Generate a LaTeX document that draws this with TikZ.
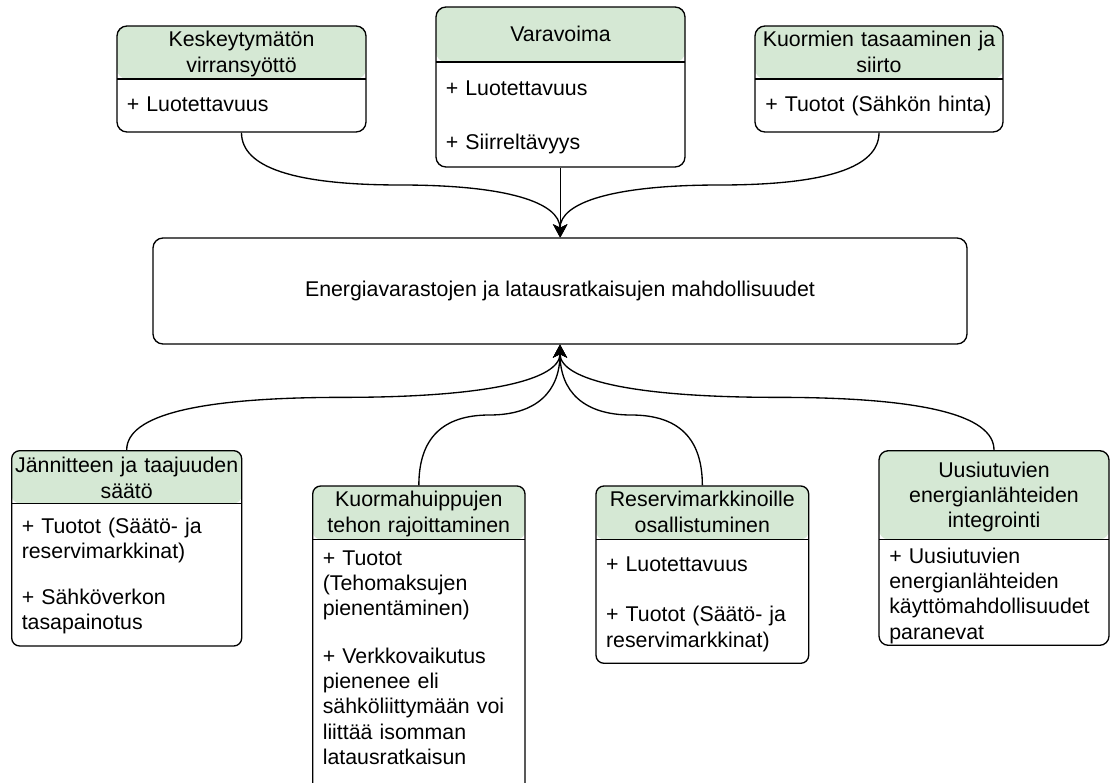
\documentclass[tikz,border=0pt]{standalone}
\usepackage{fontspec}
\setmainfont{Liberation Sans}
\usetikzlibrary{calc,fit,arrows.meta}

\definecolor{hdrgreen}{HTML}{D5E8D4}
\definecolor{ink}{HTML}{000000}

\tikzset{
  every node/.style={font=\fontsize{16}{19}\selectfont, inner sep=0pt, text=ink},
  % swimlane box: rounded outline, green header strip of height #2 (px)
  lane/.style 2 args={draw=ink, line width=1pt, rounded corners=#1, inner sep=0pt,
    path picture={
      \fill[hdrgreen] (path picture bounding box.north west)
        rectangle ($(path picture bounding box.north east)+(0,#2)$);
      \draw[ink, line width=1pt] ($(path picture bounding box.north west)+(0,#2)$)
        -- ($(path picture bounding box.north east)+(0,#2)$);
    }},
  hubbox/.style={draw=ink, line width=1pt, rounded corners=7.5pt, inner sep=0pt, align=center},
  headtext/.style={anchor=base, align=center, text width=200pt},
  bodytext/.style={anchor=base west, align=left, text width=200pt},
  link/.style={draw=ink, line width=1pt, -{Stealth[length=9.75pt,width=10.5pt,inset=2.6pt]}},
  % curved orthogonal route: vertical out, horizontal through mid-height, vertical in
  elbow/.style={to path={
    let \p1=(\tikztostart), \p2=(\tikztotarget) in
    .. controls (\x1,{\y1+(\y2-\y1)/3}) and ({\x1+(\x2-\x1)/6},{(\y1+\y2)/2})
    .. ({(\x1+\x2)/2},{(\y1+\y2)/2})
    .. controls ({\x1+5*(\x2-\x1)/6},{(\y1+\y2)/2}) and (\x2,{\y2+(\y1-\y2)/3})
    .. (\x2,\y2) \tikztonodes}}
}

\begin{document}
\begin{tikzpicture}[x=0.75pt,y=-0.75pt]
\fill[white] (0,0) rectangle (1110,782);
\useasboundingbox (0,0) rectangle (1110,782);

% ---- central box
\node[hubbox, fit={(153,238) (967,344)}] (hub) {};
\node (hub-t) at (560,291) {Energiavarastojen ja latausratkaisujen mahdollisuudet};

% ---- upper row
\node[lane={7.5pt}{53}, fit={(117,26) (366,132)}] (ups) {};
\node[headtext] (ups-t) at (241.5,46.7) {Keskeytymätön\\virransyöttö};
\node[bodytext] (ups-b1) at (126.5,111.7) {+ Luotettavuus};

\node[lane={7.5pt}{55}, fit={(436,7) (685,167)}] (vara) {};
\node[headtext] (vara-t) at (560.5,41.5) {Varavoima};
\node[bodytext] (vara-b1) at (445.5,95.7) {+ Luotettavuus};
\node[bodytext] (vara-b2) at (445.5,149) {+ Siirreltävyys};

\node[lane={7.5pt}{53}, fit={(755,26) (1003,132)}] (kuor) {};
\node[headtext] (kuor-t) at (879,46.7) {Kuormien tasaaminen ja\\siirto};
\node[bodytext] (kuor-b1) at (765,111.7) {+ Tuotot (Sähkön hinta)};

% ---- lower row
\node[lane={6pt}{52.6}, fit={(11.7,450.7) (241.7,646)}] (jann) {};
\node[headtext] (jann-t) at (126.7,472.7) {Jännitteen ja taajuuden\\säätö};
\node[bodytext] (jann-b1) at (21.5,533.3) {+ Tuotot (Säätö- ja\\reservimarkkinat)};
\node[bodytext] (jann-b2) at (21.5,604) {+ Sähköverkon\\tasapainotus};

\node[lane={6pt}{53.3}, fit={(312.7,486) (525,800)}] (huip) {};
\node[headtext] (huip-t) at (418.8,506.7) {Kuormahuippujen\\tehon rajoittaminen};
\node[bodytext] (huip-b1) at (322.5,565) {+ Tuotot\\(Tehomaksujen\\pienentäminen)};
\node[bodytext] (huip-b2) at (322.5,663.3) {+ Verkkovaikutus\\pienenee eli\\sähköliittymään voi\\liittää isomman\\latausratkaisun};

\node[lane={6pt}{53.3}, fit={(596,486) (808.7,663.3)}] (res) {};
\node[headtext] (res-t) at (702.3,506.7) {Reservimarkkinoille\\osallistuminen};
\node[bodytext] (res-b1) at (605.8,571.7) {+ Luotettavuus};
\node[bodytext] (res-b2) at (605.8,621.7) {+ Tuotot (Säätö- ja\\reservimarkkinat)};

\node[lane={7pt}{88.6}, fit={(879,450.7) (1109,645.3)}] (uus) {};
\node[headtext] (uus-t) at (994,477.3) {Uusiutuvien\\energianlähteiden\\integrointi};
\node[bodytext] (uus-b1) at (889,563.3) {+ Uusiutuvien\\energianlähteiden\\käyttömahdollisuudet\\paranevat};

% ---- connectors into the central box
\draw[link] (ups.south) to[elbow] (hub.north);
\draw[link] (kuor.south) to[elbow] (hub.north);
\draw[link] (vara.south) -- (vara.south |- hub.north);

\draw[link] (jann.north) to[elbow] (hub.south);
\draw[link] (huip.north) to[elbow] (hub.south);
\draw[link] (res.north) to[elbow] (hub.south);
\draw[link] (uus.north) to[elbow] (hub.south);
\end{tikzpicture}
\end{document}
